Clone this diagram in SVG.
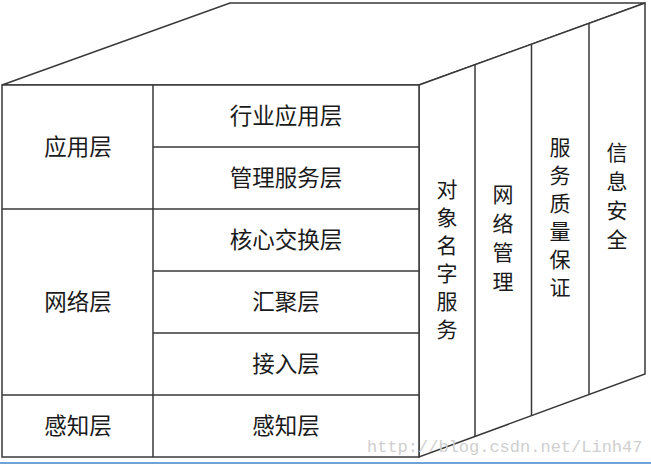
<svg xmlns="http://www.w3.org/2000/svg" width="651" height="465" viewBox="0 0 651 465">
<style>
.ln{fill:none;stroke:#383838;stroke-width:1.5;stroke-linejoin:miter}
.cell{fill:#fff;stroke:#383838;stroke-width:1.5}
.t{font-family:"Noto Sans CJK SC","Liberation Serif",sans-serif;font-size:22.5px;fill:#1a1a1a;text-anchor:middle;dominant-baseline:central}
.v{font-size:21px}
.wm{font-family:"Liberation Mono",monospace;font-size:17px;fill:#cfcfcf}
</style>
<rect width="651" height="465" fill="#fff"/>
<g id="top-face"><polygon class="cell" points="2,85 230,3 645,3 419,85"/></g>
<g id="right-face"><polygon class="cell" points="419,85 645,3 645,374 419,457"/></g>
<g id="front-face"><rect class="cell" x="2" y="85" width="417" height="372"/></g>
<g id="grid">
<line class="ln" x1="153" y1="85" x2="153" y2="457"/>
<line class="ln" x1="2" y1="209" x2="419" y2="209"/>
<line class="ln" x1="2" y1="395" x2="419" y2="395"/>
<line class="ln" x1="153" y1="147" x2="419" y2="147"/>
<line class="ln" x1="153" y1="271" x2="419" y2="271"/>
<line class="ln" x1="153" y1="333" x2="419" y2="333"/>
<line class="ln" x1="475" y1="64.7" x2="475" y2="436.4"/>
<line class="ln" x1="531.5" y1="44.4" x2="531.5" y2="415.6"/>
<line class="ln" x1="589" y1="23.3" x2="589" y2="394.6"/>
</g>
<g id="app-layer"><text class="t" x="78" y="145">应用层</text></g>
<g id="net-layer"><text class="t" x="78" y="300">网络层</text></g>
<g id="sense-layer"><text class="t" x="78" y="424">感知层</text></g>
<g id="industry-app"><text class="t" x="286" y="114">行业应用层</text></g>
<g id="mgmt-service"><text class="t" x="286" y="176">管理服务层</text></g>
<g id="core-switch"><text class="t" x="286" y="238">核心交换层</text></g>
<g id="aggregation"><text class="t" x="286" y="300">汇聚层</text></g>
<g id="access"><text class="t" x="286" y="362">接入层</text></g>
<g id="sensing"><text class="t" x="286" y="424">感知层</text></g>
<g id="object-naming"><text class="t v"><tspan x="447" y="188">对</tspan><tspan x="447" y="216">象</tspan><tspan x="447" y="244">名</tspan><tspan x="447" y="272">字</tspan><tspan x="447" y="300">服</tspan><tspan x="447" y="328">务</tspan></text></g>
<g id="net-mgmt"><text class="t v"><tspan x="503" y="193">网</tspan><tspan x="503" y="222">络</tspan><tspan x="503" y="251">管</tspan><tspan x="503" y="280">理</tspan></text></g>
<g id="qos"><text class="t v"><tspan x="560" y="146">服</tspan><tspan x="560" y="174">务</tspan><tspan x="560" y="202">质</tspan><tspan x="560" y="230">量</tspan><tspan x="560" y="258">保</tspan><tspan x="560" y="286">证</tspan></text></g>
<g id="security"><text class="t v"><tspan x="617" y="151">信</tspan><tspan x="617" y="180">息</tspan><tspan x="617" y="209">安</tspan><tspan x="617" y="238">全</tspan></text></g>
<text class="wm" x="367" y="452">http://blog.csdn.net/Linh47</text>
<line x1="0" y1="463" x2="651" y2="463" stroke="#6fa3d8" stroke-width="2"/>
</svg>
